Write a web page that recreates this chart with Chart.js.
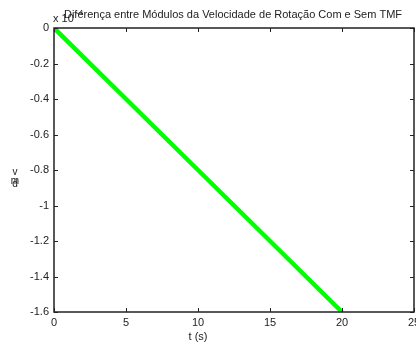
<!DOCTYPE html>
<html>
<head>
<meta charset="utf-8">
<script src="https://cdn.jsdelivr.net/npm/chart.js@4"></script>
<style>
  html, body { margin: 0; padding: 0; background: #fff; }
  #wrap { width: 416px; height: 345px; }
</style>
</head>
<body>
<div id="wrap"><canvas id="myChart" width="416" height="345"></canvas></div>
<script>
'use strict';
//data
let tValues = [0, 5, 10, 15, 20];
let vValues = [0, -0.4, -0.8, -1.2, -1.6];
let xTicks = [0, 5, 10, 15, 20, 25];
let yTicks = [0, -0.2, -0.4, -0.6, -0.8, -1, -1.2, -1.4, -1.6];
let titleText = 'Diferença entre Módulos da Velocidade de Rotação Com e Sem TMF';
let xLabel = 't (s)';

let fontFam = '"Liberation Sans", Arial, sans-serif';

//box + inward ticks + texts, matlab style
let matlabAxes = {
  id: 'matlabAxes',
  afterDraw(chart) {
    let ctx = chart.ctx;
    let a = chart.chartArea;
    let xs = chart.scales.x;
    let ys = chart.scales.y;
    ctx.save();
    ctx.strokeStyle = '#222';
    ctx.lineWidth = 1.5;
    ctx.strokeRect(a.left, a.top, a.right - a.left, a.bottom - a.top);
    ctx.lineWidth = 1;
    ctx.beginPath();
    xTicks.forEach(v => {
      let px = Math.round(xs.getPixelForValue(v)) + 0.5;
      ctx.moveTo(px, a.bottom); ctx.lineTo(px, a.bottom - 4);
      ctx.moveTo(px, a.top); ctx.lineTo(px, a.top + 4);
    });
    yTicks.forEach(v => {
      let py = Math.round(ys.getPixelForValue(v)) + 0.5;
      ctx.moveTo(a.left, py); ctx.lineTo(a.left + 4, py);
      ctx.moveTo(a.right, py); ctx.lineTo(a.right - 4, py);
    });
    ctx.stroke();

    ctx.fillStyle = '#222';
    ctx.font = '11px ' + fontFam;
    ctx.textBaseline = 'middle';
    // exponent label
    ctx.textAlign = 'left';
    ctx.fillText('x 10', 53, 19);
    ctx.font = '8px ' + fontFam;
    ctx.fillText('-4', 76, 13);
    // title
    ctx.font = '11px ' + fontFam;
    ctx.textAlign = 'center';
    ctx.fillText(titleText, 233, 15);
    // x label
    ctx.fillText(xLabel, 198, 337);
    // y label (odd stacked glyphs)
    ctx.font = '10px ' + fontFam;
    ctx.fillText('v', 15, 172);
    ctx.fillText('m', 15, 181);
    ctx.fillText('d', 15, 184);
    ctx.restore();
  }
};

const ctx = document.getElementById('myChart');

new Chart(ctx, {
  type: 'line',
  data: {
    datasets: [{
      data: tValues.map((t, i) => ({x: t, y: vValues[i]})),
      borderColor: '#00ff00',
      borderWidth: 4.5,
      pointRadius: 0,
      fill: false,
      tension: 0
    }]
  },
  options: {
    responsive: false,
    animation: false,
    layout: { padding: { top: 28, right: 2, left: 0, bottom: 0 } },
    plugins: {
      legend: { display: false },
      tooltip: { enabled: false }
    },
    scales: {
      x: {
        type: 'linear',
        min: 0,
        max: 25,
        afterBuildTicks: s => { s.ticks = xTicks.map(v => ({value: v})); },
        afterFit: s => { s.height = 33; s.paddingLeft = 0; s.paddingRight = 0; },
        grid: { display: false, drawTicks: false },
        border: { display: false },
        ticks: {
          padding: 4,
          color: '#222',
          font: { family: fontFam, size: 11 },
          maxRotation: 0,
          callback: v => String(v)
        }
      },
      y: {
        type: 'linear',
        min: -1.6,
        max: 0,
        afterBuildTicks: s => { s.ticks = yTicks.map(v => ({value: v})); },
        afterFit: s => { s.width = 54; s.paddingTop = 0; s.paddingBottom = 0; },
        grid: { display: false, drawTicks: false },
        border: { display: false },
        ticks: {
          padding: 5,
          color: '#222',
          font: { family: fontFam, size: 11 },
          callback: v => String(Math.round(v * 10) / 10)
        }
      }
    }
  },
  plugins: [matlabAxes]
});
</script>
</body>
</html>
